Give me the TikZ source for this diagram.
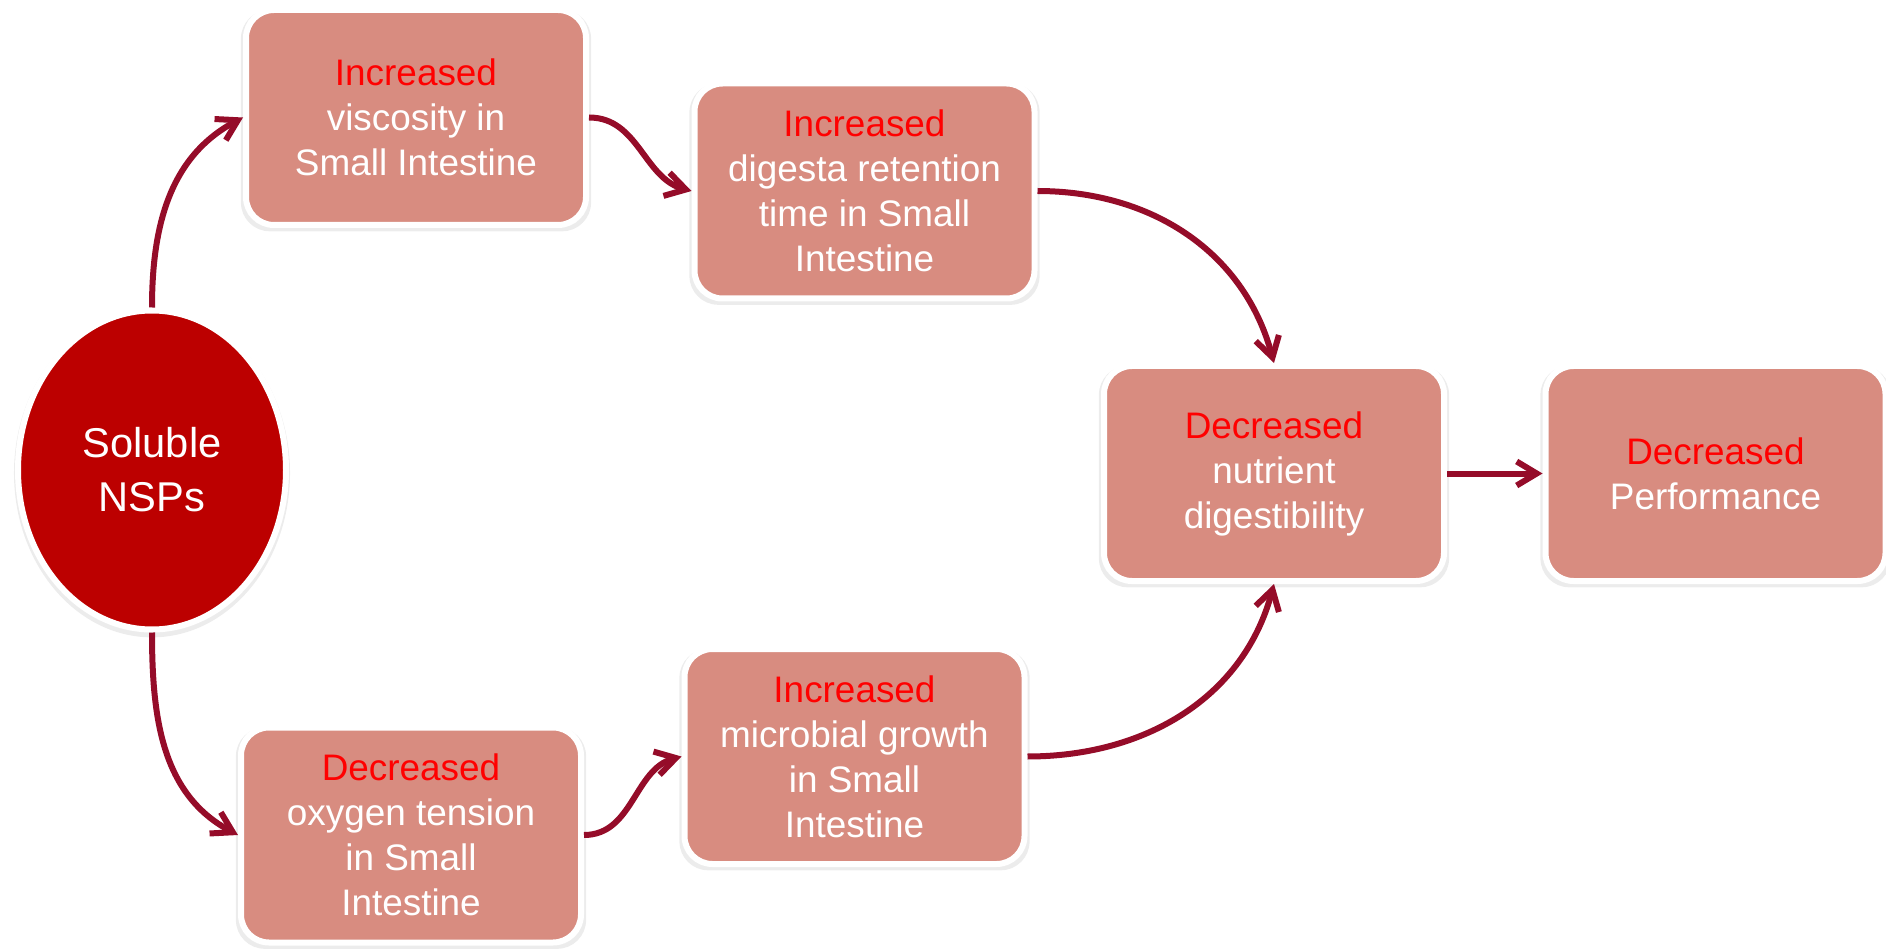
\documentclass[tikz,border=0pt]{standalone}
\usepackage{fontspec}
\setmainfont{Liberation Sans}
\usetikzlibrary{shapes.geometric,arrows.meta,shadows}
\definecolor{boxfill}{RGB}{216,140,128}
\definecolor{nspred}{RGB}{188,0,0}
\definecolor{arrowred}{RGB}{149,12,41}
\definecolor{headred}{RGB}{255,0,0}

\begin{document}
\begin{tikzpicture}[
  effect/.style={rectangle, rounded corners=0.56cm, draw=white, line width=0.12cm, fill=boxfill, minimum width=6.8cm, minimum height=4.3cm, text=white, align=center, font=\fontsize{21}{25.6}\selectfont, drop shadow={opacity=0.15, shadow xshift=0cm, shadow yshift=-0.06cm, shadow scale=1.03}},
  source/.style={ellipse, draw=white, line width=0.12cm, fill=nspred, minimum width=5.36cm, minimum height=6.38cm, inner sep=0pt, text=white, align=center, font=\fontsize{23.7}{30.7}\selectfont, drop shadow={opacity=0.15, shadow xshift=0cm, shadow yshift=-0.06cm, shadow scale=1.03}},
  arrow/.style={-{Straight Barb[length=0.4cm,width=0.48cm]}, line width=0.12cm, draw=arrowred}
]
  \useasboundingbox (0,0) rectangle (37.72,18.98);

  \node[source] (nsp) at (3.04,9.58) {Soluble\\NSPs};
  \node[effect] (visc) at (8.32,16.63) {\textcolor{headred}{Increased}\\viscosity in\\Small Intestine};
  \node[effect] (digesta) at (17.29,15.16) {\textcolor{headred}{Increased}\\digesta retention\\time in Small\\Intestine};
  \node[effect] (nutr) at (25.48,9.51) {\textcolor{headred}{Decreased}\\nutrient\\digestibility};
  \node[effect] (perf) at (34.31,9.51) {\textcolor{headred}{Decreased}\\Performance};
  \node[effect] (oxygen) at (8.22,2.28) {\textcolor{headred}{Decreased}\\oxygen tension\\in Small\\Intestine};
  \node[effect] (microb) at (17.09,3.85) {\textcolor{headred}{Increased}\\microbial growth\\in Small\\Intestine};

  \draw[arrow] (nsp.north) to[out=90,in=208] (visc.west);
  \draw[arrow] (visc.east) to[out=0,in=165] (digesta.west);
  \draw[arrow] (digesta.east) to[out=0,in=105] (nutr.north);
  \draw[arrow] (nsp.south) to[out=-90,in=152] (oxygen.west);
  \draw[arrow] (oxygen.east) to[out=0,in=195] (microb.west);
  \draw[arrow] (microb.east) to[out=0,in=-105] (nutr.south);
  \draw[arrow] (nutr) -- (perf);
\end{tikzpicture}
\end{document}
